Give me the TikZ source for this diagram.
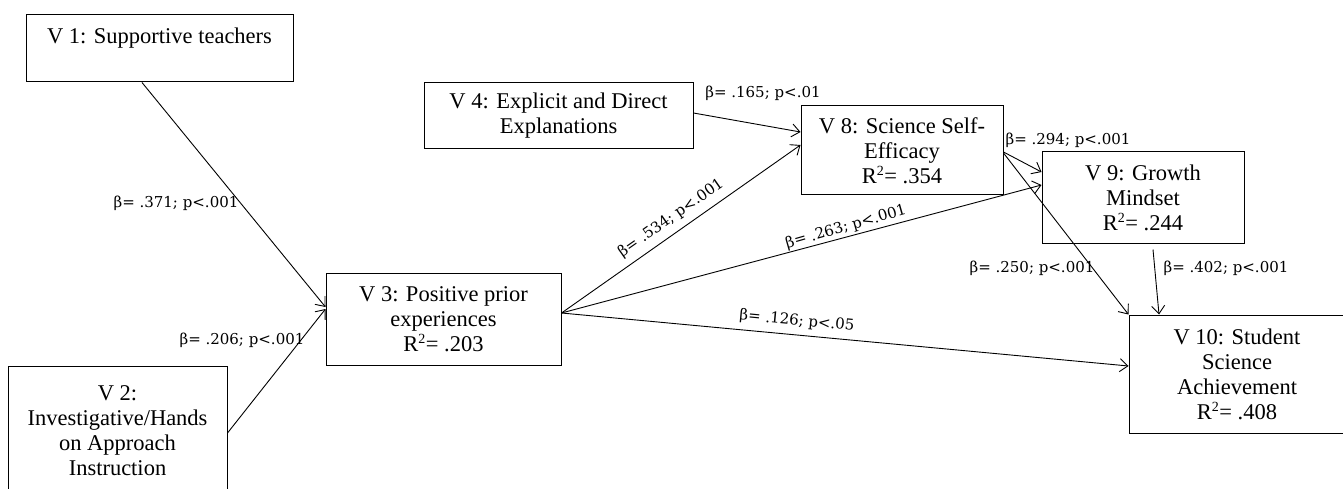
\documentclass[tikz,border=0pt]{standalone}
\usepackage{fontspec}
\setmainfont{Liberation Serif}
\newfontfamily\labfont{DejaVu Serif}
\usetikzlibrary{arrows.meta,calc}
\tikzset{
  box/.style={draw=black, line width=1pt, rectangle, align=center, inner sep=0pt,
    font=\fontsize{22.5}{25}\selectfont},
  conn/.style={draw=black, line width=0.9pt, -{Straight Barb[length=8pt,width=13pt,line width=0.9pt]}},
  lab/.style={font=\labfont\fontsize{15}{17}\selectfont, inner sep=0pt}
}
\newcommand{\rsq}{R\textsuperscript{\fontsize{14}{14}\selectfont 2}}
\begin{document}
\begin{tikzpicture}[x=1pt,y=-1pt]
\useasboundingbox (0,0) rectangle (1343,489);
\fill[white] (0,0) rectangle (1343,489);
% boxes
\node[box, minimum width=267pt, minimum height=67pt] (v1) at (159.5,48.5) {V 1: Supportive teachers\\ \mbox{}};
\node[box, minimum width=219pt, minimum height=129pt] (v2) at (117.5,430.5) {V 2:\\Investigative/Hands\\on Approach\\Instruction};
\node[box, minimum width=235pt, minimum height=92pt] (v3) at (443.5,319) {V 3: Positive prior\\experiences\\\rsq= .203};
\node[box, minimum width=269pt, minimum height=66pt] (v4) at (558.5,116) {V 4: Explicit and Direct\\Explanations};
\node[box, minimum width=202pt, minimum height=89pt] (v8) at (902,150.5) {V 8: Science Self-\\Efficacy\\\rsq= .354};
\node[box, minimum width=202pt, minimum height=91pt] (v9) at (1143,197.5) {V 9: Growth\\Mindset\\\rsq= .244};
\node[box, minimum width=216pt, minimum height=118pt] (v10) at (1237,374) {V 10: Student\\Science\\Achievement\\\rsq= .408};
% connectors
\draw[conn] ([xshift=-17.5pt]v1.south) -- ([yshift=12pt]v3.west);
\draw[conn] ([yshift=-2.5pt]v2.east) -- ([yshift=10pt]v3.west);
\draw[conn] ([yshift=6pt]v3.east) -- ([yshift=5.5pt]v8.west);
\draw[conn] ([yshift=3pt]v4.east) -- ([yshift=18.5pt]v8.west);
\draw[conn] ([yshift=-1.5pt]v8.east) -- ([yshift=25.5pt]v9.west);
\draw[conn] ([yshift=6pt]v3.east) -- ([yshift=12.5pt]v9.west);
\draw[conn] ([yshift=-2.5pt]v8.east) -- (v10.north west);
\draw[conn] ([xshift=10pt,yshift=-6pt]v9.south) -- ([xshift=-78pt]v10.north);
\draw[conn] ([yshift=6pt]v3.east) -- ([yshift=8pt]v10.west);
% labels
\node[lab] (l1) at (176,203) {β= .371; p<.001};
\node[lab] (l2) at (242,340) {β= .206; p<.001};
\node[lab] (l4) at (763,93) {β= .165; p<.01};
\node[lab, rotate=35] (l38) at (671,218) {β= .534; p<.001};
\node[lab] (l89) at (1068,140) {β= .294; p<.001};
\node[lab, rotate=16] (l39) at (846,227) {β= .263; p<.001};
\node[lab] (l810) at (1032,268) {β= .250; p<.001};
\node[lab] (l910) at (1226,268) {β= .402; p<.001};
\node[lab, rotate=-5.3] (l310) at (797,321) {β= .126; p<.05};
\end{tikzpicture}
\end{document}
